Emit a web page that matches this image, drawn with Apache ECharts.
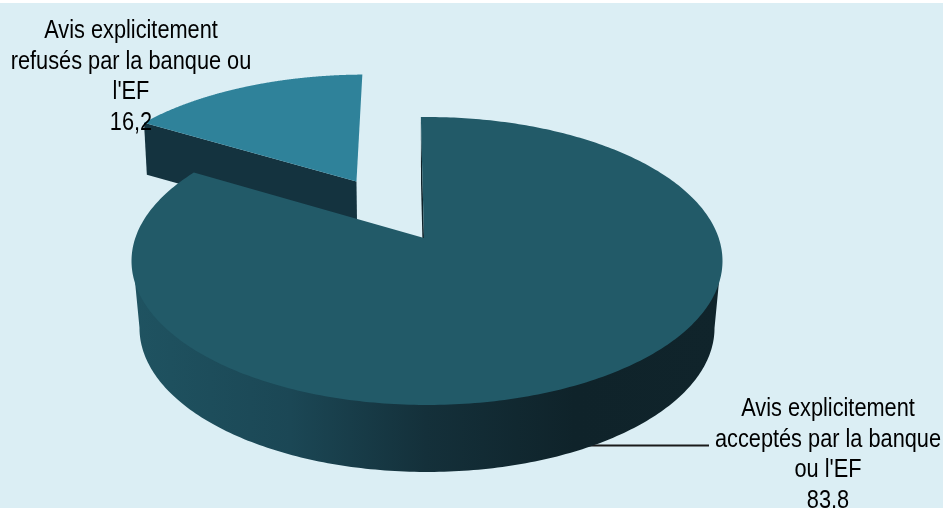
<!DOCTYPE html>
<html>
<head>
<meta charset="utf-8">
<script src="https://cdn.jsdelivr.net/npm/echarts@6/dist/echarts.min.js"></script>
<style>
  html, body { margin: 0; padding: 0; background: #fff; }
  #chart { width: 943px; height: 508px; background: linear-gradient(#fff 3px, #dbeef4 3px); }
</style>
</head>
<body>
<div id="chart"></div>
<script>
// Part des avis, en pourcentage
const categories = ["Avis explicitement\nacceptés par la banque\nou l'EF", "Avis explicitement\nrefusés par la banque ou\nl'EF"];
const values = [83.8, 16.2];
const topColors = ['#225a68', '#2f829a'];

// Perspective disc: plane coordinates (u, v) in the unit circle are projected on screen
const CENTER_X = [427, 424], CY = 238, RX = 291.7, RY = 140.3, P = 0.1597;
const START_DEG = [-1.4, -0.7];
const APEX_SHIFT = [-3, 0];          // horizontal nudge of the slice tip
const EXPLODE = [0, 0.497];          // radial offset per slice
const DEPTH = [67, 52];              // rim height per slice
const SHRINK = [0.973, 0.99];        // horizontal narrowing of the lower rim
const LABEL_POS = [[828, 394], [131, 16]];
const LINE_H = 30.5;

function project(u, v, i) {
  const w = 1 + P * v;
  return [CENTER_X[i] + RX * u / w, CY - RY * v / w];
}
function lower(pt, i) {
  return [427 + (pt[0] - 427) * SHRINK[i], pt[1] + DEPTH[i]];
}
const total = values.reduce((a, b) => a + b, 0);

function sliceGeometry(i) {
  let before = 0;
  for (let k = 0; k < i; k++) before += values[k];
  const a0 = START_DEG[i] + before / total * 360;
  const a1 = a0 + values[i] / total * 360;
  const mid = (a0 + a1) / 2 * Math.PI / 180;
  const ox = Math.sin(mid) * EXPLODE[i], oy = Math.cos(mid) * EXPLODE[i];
  const apex = project(ox, oy, i);
  apex[0] += APEX_SHIFT[i];
  const arc = [];
  for (let a = a0; a <= a1 + 1e-6; a += (a1 - a0) / 360) {
    const r = a * Math.PI / 180;
    arc.push(project(ox + Math.sin(r), oy + Math.cos(r), i));
  }
  return { apex, arc };
}

// Part of the rim that faces the viewer: between the two horizontal extremes of the arc
function frontRim(arc) {
  let il = 0, ir = 0;
  arc.forEach((p, k) => {
    if (p[0] < arc[il][0]) il = k;
    if (p[0] > arc[ir][0]) ir = k;
  });
  return arc.slice(Math.min(il, ir), Math.max(il, ir) + 1);
}

// Pulls a rim point slightly under the top face so no seam shows between the two
function tucked(p) {
  return [427 + (p[0] - 427) * 0.995, 262 + (p[1] - 262) * 0.99];
}

const sideGradient = {
  type: 'linear', global: true, x: 131, y: 0, x2: 722, y2: 0,
  colorStops: [
    { offset: 0, color: '#1f5361' },
    { offset: 0.27, color: '#1b4755' },
    { offset: 0.5, color: '#14303a' },
    { offset: 0.75, color: '#0f232a' },
    { offset: 1, color: '#10242b' }
  ]
};

function renderSlice(params, api) {
  const i = api.value(1);
  const g = sliceGeometry(i);
  const low = p => lower(p, i);
  const first = g.arc[0];
  const children = [];
  if (i === 0) {
    const rim = frontRim(g.arc);
    children.push({
      type: 'polygon',
      shape: { points: rim.map(tucked).concat(rim.slice().reverse().map(low)) },
      style: { fill: sideGradient }
    });
    children.push({
      type: 'polygon',
      shape: { points: [g.apex, first, low(first), low(g.apex)] },
      style: { fill: '#0f232a' }
    });
  } else {
    // Only the cut face turned to the viewer shows on the detached slice
    children.push({
      type: 'polygon',
      shape: { points: [g.apex, first, low(first), low(g.apex)] },
      style: { fill: '#14333f' }
    });
  }
  children.push({
    type: 'polygon',
    shape: { points: [g.apex].concat(g.arc) },
    style: { fill: topColors[i] }
  });
  return { type: 'group', children };
}

function renderLabel(params, api) {
  const i = api.value(1);
  const text = categories[i] + '\n' + String(api.value(0)).replace('.', ',');
  return {
    type: 'text',
    x: LABEL_POS[i][0], y: LABEL_POS[i][1],
    scaleX: 0.87,
    z2: 10,
    style: {
      text, textAlign: 'center', textVerticalAlign: 'top',
      font: '25px "Liberation Sans"', lineHeight: LINE_H, fill: '#000'
    }
  };
}

const dataRows = values.map((v, i) => [v, i]);
const chart = echarts.init(document.getElementById('chart'), null, { renderer: 'canvas' });
chart.setOption({
  animation: false,
  backgroundColor: 'transparent',
  tooltip: { show: false },
  series: [
    // The detached slice sits behind the main one
    { type: 'custom', coordinateSystem: 'none', renderItem: renderSlice, data: [dataRows[1]], z: 1 },
    {
      type: 'custom', coordinateSystem: 'none', z: 2, data: [[0, 0]], silent: true,
      renderItem: () => ({
        type: 'line', shape: { x1: 585, y1: 445.5, x2: 709, y2: 445.5 },
        style: { stroke: '#1a1a1a', lineWidth: 2 }
      })
    },
    { type: 'custom', coordinateSystem: 'none', renderItem: renderSlice, data: [dataRows[0]], z: 3 },
    { type: 'custom', coordinateSystem: 'none', renderItem: renderLabel, data: dataRows, z: 4 }
  ]
});
</script>
</body>
</html>
